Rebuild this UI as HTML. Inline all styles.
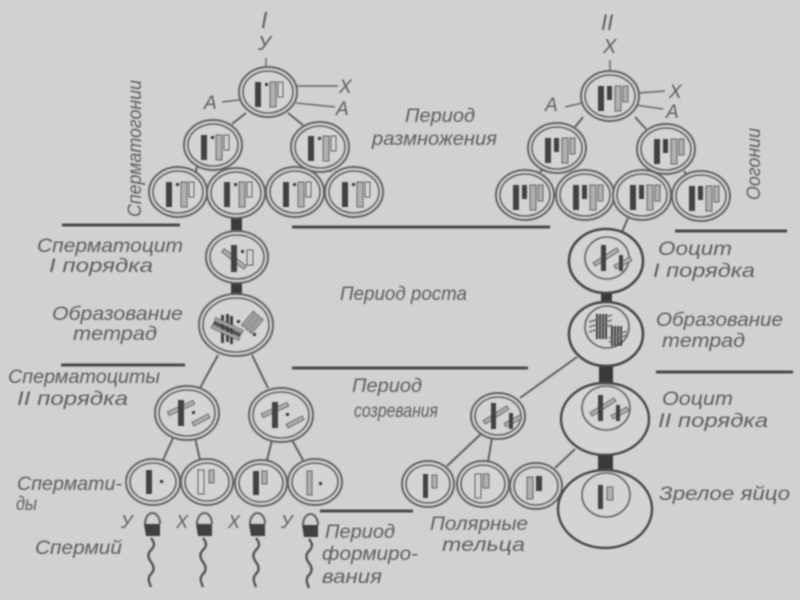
<!DOCTYPE html>
<html lang="ru"><head><meta charset="utf-8"><title>Diagram</title>
<style>
html,body{margin:0;padding:0;background:#d1d1d1;width:800px;height:600px;overflow:hidden}
svg{display:block;filter:blur(.8px)}
text{font-family:"Liberation Sans",sans-serif;font-style:italic;font-size:19px;fill:#5e5e5e}
.r{fill:#d4d4d4;stroke:#626262;stroke-width:2}
.i{fill:#d4d4d4;stroke:#626262;stroke-width:1.6}
.d{fill:#424242}
.g{fill:#b0b0b0;stroke:#666;stroke-width:1}
.o{fill:#d4d4d4;stroke:#5e5e5e;stroke-width:1}
.l{stroke:#606060;stroke-width:2;fill:none}
.h{stroke:#4a4a4a;stroke-width:3;fill:none}
.t{stroke:#555;stroke-width:2.4;fill:none}
.s{fill:#3a3a3a}
</style></head><body>
<svg xmlns="http://www.w3.org/2000/svg" width="800" height="600" viewBox="0 0 800 600">
<defs>
<g id="cL"><rect class="d" x="-12" y="-11" width="6" height="25"/><rect class="s" x="-2" y="-10" width="3" height="3"/><rect class="g" x="3" y="-11" width="6" height="25"/><rect class="o" x="11" y="-11" width="5" height="15"/></g>
<g id="cR"><rect class="d" x="-12" y="-11" width="6" height="25"/><rect class="d" x="-3" y="-11" width="5" height="14"/><rect class="g" x="5" y="-11" width="6" height="25"/><rect class="g" x="13" y="-11" width="5" height="16"/></g>
<g id="rg"><ellipse class="r" rx="29" ry="25"/><ellipse class="i" rx="25" ry="21"/></g>
<g id="sII"><rect class="g" x="-20" y="-7" width="28" height="4" transform="rotate(-24 -6 -5)"/><rect class="d" x="-9" y="-13" width="6" height="26"/><rect class="s" x="5" y="-2" width="3" height="3"/><rect class="g" x="5" y="5" width="18" height="4" transform="rotate(-28 14 7)"/></g>
<g id="oo"><rect class="g" x="-17" y="-3" width="28" height="4" transform="rotate(-32 -3 -1)"/><rect class="d" x="-8" y="-13" width="5" height="26"/><rect class="g" x="5" y="3" width="18" height="4" transform="rotate(-28 14 5)"/><rect class="d" x="10" y="-3" width="4" height="16"/></g>
</defs>
<rect width="800" height="600" fill="#d1d1d1"/>

<!-- divider lines -->
<path class="h" d="M62 225H180M292 227H550M61 365H185M292 368H528M320 511H413M675 231H787M656 372H793"/>

<!-- stalks -->
<rect class="s" x="231" y="214" width="11" height="20"/>
<rect class="s" x="231" y="282" width="11" height="14"/>
<rect class="s" x="601" y="292" width="11" height="11"/>
<rect class="s" x="599" y="365" width="14" height="20"/>
<rect class="s" x="598" y="454" width="15" height="18"/>

<!-- connectors -->
<path class="l" d="M246 113L232 124M288 113L303 125M197 166L196 172M331 170L330 172M218 355L200 388M252 355L268 388M163 460L173 438M200 460L195 438M267 460L272 440M303 460L292 440M628 218L622 232M583 117L575 127M635 117L646 129M542 170L540 172M684 171L686 174M577 357L520 398M482 433L447 466M492 438L488 462M575 449L555 468"/>
<path d="M266 58V82M296 86H338M296 103L335 107M222 102L256 98M610 60V82M625 94L665 91M635 105L663 109M565 107L600 99" stroke="#6a6a6a" stroke-width="1.5" fill="none"/>

<!-- left spermatogonia -->
<use href="#rg" x="268" y="92"/><use href="#cL" x="267" y="93"/>
<use href="#rg" x="213" y="145"/><use href="#cL" x="213" y="146"/>
<use href="#rg" x="320" y="147"/><use href="#cL" x="320" y="147"/>
<use href="#rg" x="178" y="192"/><use href="#cL" x="178" y="193"/>
<use href="#rg" x="236" y="193"/><use href="#cL" x="236" y="193"/>
<use href="#rg" x="295" y="192"/><use href="#cL" x="295" y="193"/>
<use href="#rg" x="354" y="192"/><use href="#cL" x="354" y="193"/>

<!-- right oogonia -->
<use href="#rg" x="610" y="96"/><use href="#cR" x="610" y="97"/>
<use href="#rg" x="557" y="148"/><use href="#cR" x="557" y="149"/>
<use href="#rg" x="666" y="149"/><use href="#cR" x="666" y="150"/>
<use href="#rg" x="525" y="195"/><use href="#cR" x="525" y="196"/>
<use href="#rg" x="585" y="195"/><use href="#cR" x="585" y="196"/>
<use href="#rg" x="642" y="195"/><use href="#cR" x="642" y="196"/>
<use href="#rg" x="701" y="196"/><use href="#cR" x="701" y="197"/>

<!-- spermatocyte I -->
<ellipse class="r" cx="237" cy="257" rx="31" ry="26"/><ellipse class="i" cx="237" cy="257" rx="27" ry="22"/>
<rect class="g" x="220" y="257" width="28" height="4" transform="rotate(38 234 259)"/>
<rect class="d" x="231" y="245" width="6" height="27"/><rect class="s" x="241" y="250" width="3" height="3"/><rect class="o" x="247" y="250" width="6" height="15"/>

<!-- tetrads left -->
<ellipse class="r" cx="236" cy="325" rx="37" ry="31"/><ellipse class="i" cx="236" cy="325" rx="33" ry="27"/>
<rect class="d" x="221" y="315" width="3" height="28"/><rect class="d" x="226" y="314" width="3" height="28"/><rect class="d" x="230" y="316" width="3" height="28"/>
<g transform="rotate(25 226 329)"><rect class="g" x="212" y="323" width="30" height="3"/><rect class="d" x="212" y="327" width="30" height="3"/><rect class="g" x="212" y="331" width="30" height="3"/></g>
<g transform="rotate(-50 252 322)"><rect class="g" x="243" y="316" width="18" height="3"/><rect class="g" x="243" y="321" width="18" height="3"/><rect class="g" x="243" y="326" width="18" height="3"/></g>
<rect class="s" x="237" y="320" width="3" height="3"/><rect class="s" x="253" y="333" width="3" height="3"/>

<!-- spermatocytes II -->
<ellipse class="r" cx="187" cy="413" rx="32" ry="27"/><ellipse class="i" cx="187" cy="413" rx="28" ry="23"/><use href="#sII" x="187" y="413"/>
<ellipse class="r" cx="281" cy="415" rx="32" ry="27"/><ellipse class="i" cx="281" cy="415" rx="28" ry="23"/><use href="#sII" x="281" y="415"/>

<!-- spermatids -->
<ellipse class="r" cx="153" cy="482" rx="27" ry="23"/><ellipse class="i" cx="153" cy="482" rx="23" ry="19"/>
<rect class="d" x="146" y="470" width="6" height="24"/><rect class="s" x="160" y="480" width="3" height="3"/>
<ellipse class="r" cx="207" cy="482" rx="26" ry="23"/><ellipse class="i" cx="207" cy="482" rx="22" ry="19"/>
<rect class="o" x="198" y="470" width="6" height="24"/><rect class="g" x="209" y="470" width="5" height="13"/>
<ellipse class="r" cx="261" cy="483" rx="26" ry="23"/><ellipse class="i" cx="261" cy="483" rx="22" ry="19"/>
<rect class="d" x="253" y="471" width="6" height="24"/><rect class="g" x="262" y="471" width="5" height="13"/>
<ellipse class="r" cx="315" cy="482" rx="27" ry="23"/><ellipse class="i" cx="315" cy="482" rx="23" ry="19"/>
<rect class="g" x="307" y="471" width="5" height="24"/><rect class="s" x="319" y="482" width="3" height="3"/>

<!-- sperm -->
<g id="sp"><path d="M145 524a7.5 11 0 0 1 15 0" class="l"/><path d="M144 524H160V536H146Z" fill="#404040"/><path class="t" d="M151 538c4 5 4 8 0 12s-3 8 0 12 4 8 0 12 -2 8 0 13"/></g>
<use href="#sp" x="52" y="0"/><use href="#sp" x="105" y="0"/><use href="#sp" x="158" y="1"/>

<!-- oocyte I -->
<ellipse cx="606" cy="261" rx="37" ry="32" fill="#d4d4d4" stroke="#484848" stroke-width="2.6"/>
<ellipse class="i" cx="607" cy="258" rx="22" ry="21" stroke-width="1.2"/><use href="#oo" x="609" y="258"/>

<!-- oocyte tetrads -->
<ellipse cx="606" cy="334" rx="37" ry="32" fill="#d4d4d4" stroke="#484848" stroke-width="2.6"/>
<ellipse class="i" cx="607" cy="327" rx="22" ry="21" stroke-width="1.2"/>
<path d="M597 314V339M600 314V339M603 314V339M606 314V339" stroke="#3a3a3a" stroke-width="2"/>
<path d="M612 326V346M615 326V346M618 326V346M621 326V346" stroke="#3a3a3a" stroke-width="2"/>
<path d="M589 322L612 315M589 327L612 320M589 332L612 325M609 338L627 331M609 342L627 335" stroke="#707070" stroke-width="1.5"/>

<!-- oocyte II -->
<ellipse cx="605" cy="419" rx="44" ry="36" fill="#d4d4d4" stroke="#484848" stroke-width="2.4"/>
<ellipse class="i" cx="606" cy="408" rx="24" ry="22" stroke-width="1.2"/><use href="#oo" x="606" y="408"/>

<!-- polar 1 -->
<ellipse class="r" cx="498" cy="416" rx="27" ry="23"/><ellipse class="i" cx="498" cy="416" rx="23" ry="19"/><use href="#oo" x="499" y="416"/>

<!-- polar bodies -->
<ellipse class="r" cx="428" cy="484" rx="26" ry="23"/><ellipse class="i" cx="428" cy="484" rx="22" ry="19"/>
<rect class="d" x="423" y="474" width="5" height="24"/><rect class="g" x="432" y="475" width="5" height="13"/>
<ellipse class="r" cx="483" cy="484" rx="26" ry="23"/><ellipse class="i" cx="483" cy="484" rx="22" ry="19"/>
<rect class="o" x="475" y="474" width="6" height="24"/><rect class="g" x="483" y="474" width="6" height="14"/>
<ellipse class="r" cx="536" cy="486" rx="26" ry="23"/><ellipse class="i" cx="536" cy="486" rx="22" ry="19"/>
<rect class="g" x="527" y="477" width="6" height="22"/><rect class="d" x="536" y="476" width="6" height="15"/>

<!-- egg -->
<ellipse cx="605" cy="509" rx="47" ry="39" fill="#d4d4d4" stroke="#484848" stroke-width="2.4"/>
<ellipse class="i" cx="606" cy="495" rx="24" ry="22" stroke-width="1.2"/>
<rect class="d" x="598" y="485" width="5" height="24"/><rect class="g" x="607" y="487" width="6" height="13"/>

<!-- labels -->
<text x="261" y="28" style="font-size:23px">I</text>
<text x="258" y="50" style="font-size:20px">У</text>
<text x="339" y="93" style="font-size:19px">X</text>
<text x="336" y="115" style="font-size:19px">А</text>
<text x="204" y="109" style="font-size:19px">А</text>
<text x="601" y="30" style="font-size:22px">II</text>
<text x="603" y="53" style="font-size:20px">X</text>
<text x="669" y="98" style="font-size:19px">X</text>
<text x="666" y="118" style="font-size:19px">А</text>
<text x="545" y="111" style="font-size:19px">А</text>

<text transform="translate(141 217) rotate(-90)" textLength="137" lengthAdjust="spacingAndGlyphs">Сперматогонии</text>
<text transform="translate(760 200) rotate(-90)" textLength="72" lengthAdjust="spacingAndGlyphs">Оогонии</text>

<text x="405" y="122" textLength="70" lengthAdjust="spacingAndGlyphs">Период</text>
<text x="372" y="145" textLength="125" lengthAdjust="spacingAndGlyphs">размножения</text>
<text x="340" y="300" textLength="127" lengthAdjust="spacingAndGlyphs">Период роста</text>
<text x="352" y="392" textLength="70" lengthAdjust="spacingAndGlyphs">Период</text>
<text x="354" y="417" textLength="84" lengthAdjust="spacingAndGlyphs">созревания</text>

<text x="37" y="252" textLength="146" lengthAdjust="spacingAndGlyphs">Сперматоцит</text>
<text x="49" y="272" textLength="104" lengthAdjust="spacingAndGlyphs">I порядка</text>
<text x="52" y="320" textLength="131" lengthAdjust="spacingAndGlyphs">Образование</text>
<text x="73" y="340" textLength="84" lengthAdjust="spacingAndGlyphs">тетрад</text>
<text x="8" y="383" textLength="152" lengthAdjust="spacingAndGlyphs">Сперматоциты</text>
<text x="17" y="405" textLength="111" lengthAdjust="spacingAndGlyphs">II порядка</text>
<text x="17" y="490" textLength="105" lengthAdjust="spacingAndGlyphs">Спермати-</text>
<text x="16" y="510" textLength="21" lengthAdjust="spacingAndGlyphs">ды</text>
<text x="35" y="554" textLength="87" lengthAdjust="spacingAndGlyphs">Спермий</text>

<text x="121" y="528" style="font-size:18px">У</text>
<text x="176" y="528" style="font-size:18px">X</text>
<text x="228" y="528" style="font-size:18px">X</text>
<text x="281" y="528" style="font-size:18px">У</text>

<text x="325" y="538" textLength="70" lengthAdjust="spacingAndGlyphs">Период</text>
<text x="322" y="560" textLength="96" lengthAdjust="spacingAndGlyphs">формиро-</text>
<text x="322" y="583" textLength="60" lengthAdjust="spacingAndGlyphs">вания</text>

<text x="658" y="255" textLength="74" lengthAdjust="spacingAndGlyphs">Ооцит</text>
<text x="653" y="277" textLength="102" lengthAdjust="spacingAndGlyphs">I порядка</text>
<text x="656" y="326" textLength="127" lengthAdjust="spacingAndGlyphs">Образование</text>
<text x="662" y="347" textLength="83" lengthAdjust="spacingAndGlyphs">тетрад</text>
<text x="662" y="405" textLength="71" lengthAdjust="spacingAndGlyphs">Ооцит</text>
<text x="658" y="427" textLength="110" lengthAdjust="spacingAndGlyphs">II порядка</text>
<text x="659" y="500" textLength="131" lengthAdjust="spacingAndGlyphs">Зрелое яйцо</text>
<text x="430" y="530" textLength="98" lengthAdjust="spacingAndGlyphs">Полярные</text>
<text x="442" y="551" textLength="83" lengthAdjust="spacingAndGlyphs">тельца</text>
</svg>
</body></html>
